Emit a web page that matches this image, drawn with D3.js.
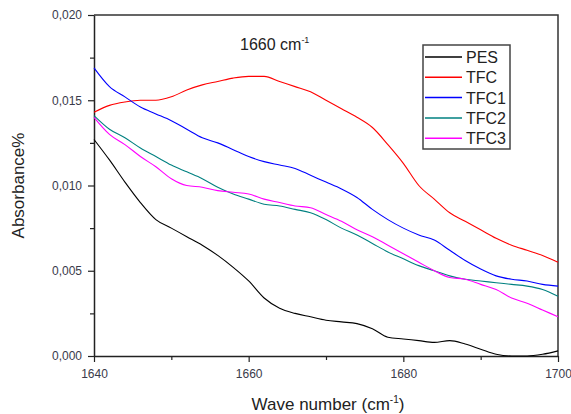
<!DOCTYPE html>
<html lang="en">
  <head>
    <meta charset="utf-8">
    <title>Absorbance 1660 cm-1</title>
    <script src="https://d3js.org/d3.v7.min.js"></script>
    <style>
      body { margin: 0; background: #fff; }
      text { font-family: "Liberation Sans", Arial, sans-serif; }
    </style>
  </head>
  <body>
  <div id="chart"></div>

<script>

// data (wave number vs absorbance)
var wave = [1640, 1642, 1644, 1646, 1648, 1650, 1652, 1654, 1656, 1658, 1660,
            1662, 1664, 1666, 1668, 1670, 1672, 1674, 1676, 1678, 1680,
            1682, 1684, 1686, 1688, 1690, 1692, 1694, 1696, 1698, 1700];

var pes  = [0.0127, 0.0115, 0.0102, 0.0090, 0.0080, 0.0075, 0.0070, 0.0065, 0.0059, 0.0052, 0.0044,
            0.0034, 0.0028, 0.0025, 0.0023, 0.0021, 0.0020, 0.0019, 0.0016, 0.0011, 0.0010,
            0.0009, 0.0008, 0.0009, 0.0007, 0.0004, 0.0001, 0.0000, 0.0000, 0.0001, 0.0003];
var tfc  = [0.0143, 0.0147, 0.0149, 0.0150, 0.0150, 0.0152, 0.0156, 0.0159, 0.0161, 0.0163, 0.0164,
            0.0164, 0.0161, 0.0158, 0.0155, 0.0150, 0.0145, 0.0140, 0.0134, 0.0124, 0.0113,
            0.0100, 0.0092, 0.0084, 0.0079, 0.0074, 0.0069, 0.0065, 0.0062, 0.0059, 0.0055];
var tfc1 = [0.0169, 0.0158, 0.0152, 0.0146, 0.0142, 0.0138, 0.0133, 0.0128, 0.0125, 0.0121, 0.0117,
            0.0114, 0.0112, 0.0110, 0.0106, 0.0102, 0.0098, 0.0093, 0.0086, 0.0080, 0.0075,
            0.0071, 0.0068, 0.0062, 0.0056, 0.0051, 0.0047, 0.0045, 0.0044, 0.0042, 0.0041];
var tfc2 = [0.0141, 0.0133, 0.0128, 0.0122, 0.0117, 0.0112, 0.0108, 0.0104, 0.0099, 0.0095, 0.0092,
            0.0089, 0.0088, 0.0086, 0.0084, 0.0080, 0.0075, 0.0071, 0.0066, 0.0061, 0.0057,
            0.0053, 0.0050, 0.0047, 0.0045, 0.0044, 0.0043, 0.0042, 0.0041, 0.0039, 0.0035];
var tfc3 = [0.0140, 0.0130, 0.0124, 0.0117, 0.0111, 0.0104, 0.0100, 0.0099, 0.0097, 0.0096, 0.0095,
            0.0092, 0.0090, 0.0088, 0.0087, 0.0083, 0.0079, 0.0074, 0.0070, 0.0065, 0.0060,
            0.0055, 0.0050, 0.0046, 0.0045, 0.0042, 0.0039, 0.0034, 0.0031, 0.0027, 0.0023];

var seriesNames = ["PES", "TFC", "TFC1", "TFC2", "TFC3"];
var seriesValues = [pes, tfc, tfc1, tfc2, tfc3];
var seriesColors = ["#000000", "#ff0000", "#0000ff", "#008080", "#ff00ff"];

var xTicks = [1640, 1660, 1680, 1700];
var xMinor = [1650, 1670, 1690];
var yTicks = [0, 0.005, 0.010, 0.015, 0.020];
var yMinor = [0.0025, 0.0075, 0.0125, 0.0175];

// dimensions
var W = 571, H = 414;
var margin = {top: 15, right: 13, bottom: 58, left: 94};
var width = W - margin.left - margin.right,
    height = H - margin.top - margin.bottom;

var svg = d3.select("#chart")
  .append("svg")
    .attr("width", W)
    .attr("height", H);

var g = svg.append("g")
    .attr("transform", "translate(" + margin.left + "," + margin.top + ")");

var x = d3.scaleLinear().domain([1640, 1700]).range([0, width]);
var y = d3.scaleLinear().domain([0, 0.020]).range([height, 0]);

var commaFmt = function(d) { return d3.format(".3f")(d).replace(".", ","); };

// frame (top and right only, axes draw the other two)
g.append("path")
    .attr("d", "M0,0H" + width + "V" + height)
    .attr("fill", "none")
    .attr("stroke", "#333")
    .attr("stroke-width", 1.5);

// x axis
g.append("g")
    .attr("transform", "translate(0," + height + ")")
    .call(d3.axisBottom(x).tickValues(xTicks).tickSize(6).tickPadding(7)
            .tickFormat(d3.format("d")).tickSizeOuter(0));
g.append("g")
    .attr("transform", "translate(0," + height + ")")
    .call(d3.axisBottom(x).tickValues(xMinor).tickSize(4).tickFormat("").tickSizeOuter(0))
    .select(".domain").remove();

// y axis
g.append("g")
    .call(d3.axisLeft(y).tickValues(yTicks).tickSize(6).tickPadding(6).tickFormat(commaFmt).tickSizeOuter(0));
g.append("g")
    .call(d3.axisLeft(y).tickValues(yMinor).tickSize(4).tickFormat("").tickSizeOuter(0))
    .select(".domain").remove();

g.selectAll(".domain").attr("stroke", "#222").attr("stroke-width", 1.5);
g.selectAll(".tick line").attr("stroke", "#222").attr("stroke-width", 1.2);
g.selectAll(".tick text")
    .style("font-family", "'Liberation Sans', Arial, sans-serif")
    .style("font-size", "12px")
    .attr("fill", "#3a3a4a");

// lines
var line = d3.line()
    .x(function(d) { return x(d[0]); })
    .y(function(d) { return y(d[1]); })
    .curve(d3.curveMonotoneX);

seriesValues.forEach(function(vals, i) {
  g.append("path")
      .datum(wave.map(function(w, j) { return [w, vals[j]]; }))
      .attr("fill", "none")
      .attr("stroke", seriesColors[i])
      .attr("stroke-width", 1.1)
      .attr("d", line);
});

// axis titles
svg.append("text")
    .attr("transform", "translate(24," + (margin.top + height / 2) + ") rotate(-90)")
    .attr("text-anchor", "middle")
    .style("font-size", "17px")
    .attr("fill", "#222")
    .text("Absorbance%");

var xt = svg.append("text")
    .attr("x", margin.left + width / 2 + 2)
    .attr("y", 410)
    .attr("text-anchor", "middle")
    .style("font-size", "17px")
    .attr("fill", "#222");
xt.append("tspan").text("Wave number (cm");
xt.append("tspan").attr("dy", -7).style("font-size", "10px").text("-1");
xt.append("tspan").attr("dy", 7).text(")");

// annotation
var ann = svg.append("text")
    .attr("x", 240)
    .attr("y", 50)
    .style("font-size", "16px")
    .attr("fill", "#222");
ann.append("tspan").text("1660 cm");
ann.append("tspan").attr("dy", -7).style("font-size", "9px").text("-1");

// legend
var legend = svg.append("g").attr("transform", "translate(423,45)");
legend.append("rect")
    .attr("width", 87)
    .attr("height", 104)
    .attr("fill", "#fff")
    .attr("stroke", "#444")
    .attr("stroke-width", 1.5);

seriesNames.forEach(function(name, i) {
  var cy = 12 + i * 20.3;
  legend.append("line")
      .attr("x1", 2).attr("x2", 39)
      .attr("y1", cy).attr("y2", cy)
      .attr("stroke", seriesColors[i])
      .attr("stroke-width", 1.5);
  legend.append("text")
      .attr("x", 43)
      .attr("y", cy + 6)
      .style("font-size", "16px")
      .attr("fill", "#222")
      .text(name);
});

</script>
  </body>
</html>
